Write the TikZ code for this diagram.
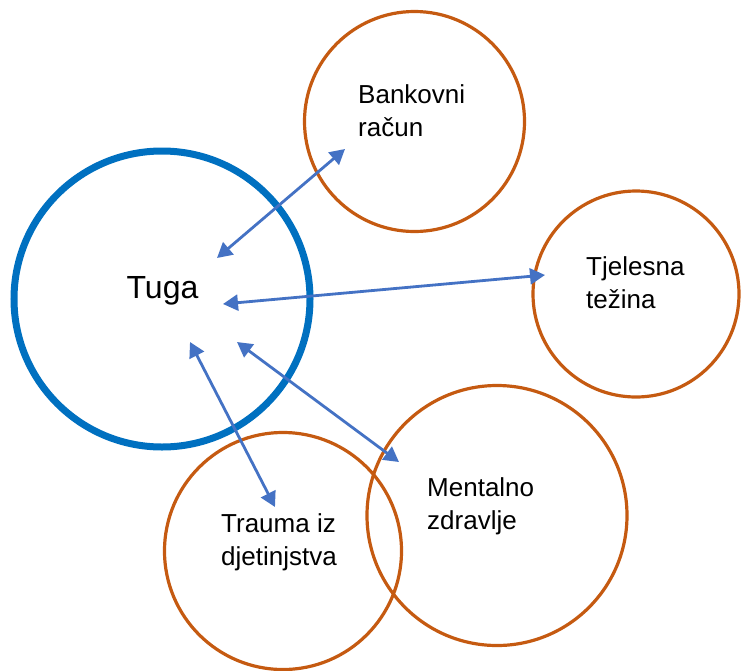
\documentclass[tikz,border=0pt]{standalone}
\usepackage{fontspec}
\setmainfont{Liberation Sans}
\usetikzlibrary{arrows.meta}
\definecolor{tugablue}{HTML}{0070C0}
\definecolor{ringorange}{HTML}{C55A11}
\definecolor{linkblue}{HTML}{4472C4}

\begin{document}
\begin{tikzpicture}[x=1pt,y=-1pt,>={Triangle[length=15pt,width=16pt]},
                    ring/.style={circle,draw=ringorange,line width=3.2pt,inner sep=0pt},
                    ringtext/.style={anchor=base west,align=left,inner sep=0pt,
                                     font=\fontsize{26}{32.5}\selectfont},
                    link/.style={<->,draw=linkblue,line width=2.8pt}]
\useasboundingbox (0,0) rectangle (744,670);
\node[circle,draw=tugablue,line width=7pt,minimum size=296pt] (tuga) at (162,299) {};
\node[ring,minimum size=220pt] (racun) at (414.5,121.5) {};
\node[ring,minimum size=206pt] (tezina) at (636,294) {};
\node[ring,minimum size=260pt] (zdravlje) at (497,515.5) {};
\node[ring,minimum size=237pt] (trauma) at (283,551) {};
\node[anchor=base,inner sep=0pt,font=\fontsize{32}{38}\selectfont] (tugatext) at (162.5,298) {Tuga};
\node[ringtext] (racuntext) at (358,136) {Bankovni\\račun};
\node[ringtext] (tezinatext) at (586,308) {Tjelesna\\težina};
\node[ringtext] (zdravljetext) at (427,529) {Mentalno\\zdravlje};
\node[ringtext] (traumatext) at (221,565) {Trauma iz\\djetinjstva};
% arrow ends
\coordinate (tuga-r) at (217,258);   \coordinate (racun-t) at (345,149);
\coordinate (tuga-w) at (223,304);   \coordinate (tezina-t) at (545,275);
\coordinate (tuga-d) at (190,342);   \coordinate (trauma-t) at (275,507);
\coordinate (tuga-m) at (237,342);   \coordinate (zdravlje-t) at (399,462);
\path (tuga-r) edge[link] (racun-t)
      (tuga-w) edge[link] (tezina-t)
      (tuga-d) edge[link] (trauma-t)
      (tuga-m) edge[link] (zdravlje-t);
\end{tikzpicture}
\end{document}
